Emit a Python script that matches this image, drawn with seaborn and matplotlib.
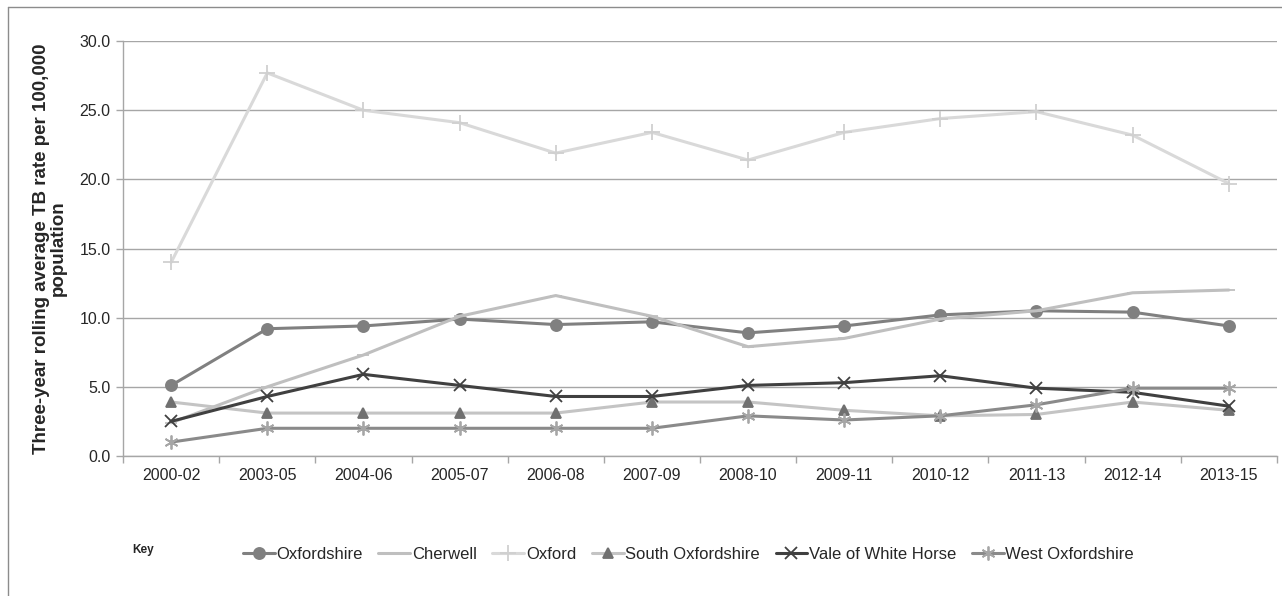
import numpy as np
import pandas as pd
import matplotlib
matplotlib.use('Agg')
import matplotlib.pyplot as plt
import seaborn as sns
from matplotlib.lines import Line2D
from matplotlib.ticker import FixedLocator

# ================================= #
# data
# ================================= #
periods = ['2000-02', '2003-05', '2004-06', '2005-07', '2006-08', '2007-09',
           '2008-10', '2009-11', '2010-12', '2011-13', '2012-14', '2013-15']

oxfordshire = [5.1, 9.2, 9.4, 9.9, 9.5, 9.7, 8.9, 9.4, 10.2, 10.5, 10.4, 9.4]
cherwell = [2.4, 5.0, 7.3, 10.1, 11.6, 10.1, 7.9, 8.5, 9.9, 10.5, 11.8, 12.0]
oxford = [14.0, 27.7, 25.0, 24.1, 21.9, 23.4, 21.4, 23.4, 24.4, 24.9, 23.2, 19.7]
south_oxon = [3.9, 3.1, 3.1, 3.1, 3.1, 3.9, 3.9, 3.3, 2.9, 3.0, 3.9, 3.3]
vale_wh = [2.5, 4.3, 5.9, 5.1, 4.3, 4.3, 5.1, 5.3, 5.8, 4.9, 4.6, 3.6]
west_oxon = [1.0, 2.0, 2.0, 2.0, 2.0, 2.0, 2.9, 2.6, 2.9, 3.7, 4.9, 4.9]

areas = ['Oxfordshire', 'Cherwell', 'Oxford', 'South Oxfordshire',
         'Vale of White Horse', 'West Oxfordshire']
series = [oxfordshire, cherwell, oxford, south_oxon, vale_wh, west_oxon]

df = pd.DataFrame({'period': np.tile(periods, len(areas)),
                   'pos': np.tile(np.arange(len(periods)), len(areas)),
                   'area': np.repeat(areas, len(periods)),
                   'rate': np.concatenate(series)})

# line colour, marker, marker colour, marker size
styles = {
    'Oxfordshire': ('#808080', 'o', '#808080', 8),
    'Cherwell': ('#bfbfbf', '_', '#bfbfbf', 8),
    'Oxford': ('#d9d9d9', '+', '#d0d0d0', 12),
    'South Oxfordshire': ('#c4c4c4', '^', '#707070', 7.5),
    'Vale of White Horse': ('#404040', 'x', '#404040', 9),
    'West Oxfordshire': ('#8a8a8a', (6, 2, 0), '#a6a6a6', 10),
}

sns.set_style('white')
plt.rcParams['font.family'] = ['Liberation Sans', 'DejaVu Sans']

fig = plt.figure(figsize=(12.82, 5.96), dpi=100)
ax = fig.add_axes([0.096, 0.235, 0.9, 0.696])

for area in areas:
    col, mk, mcol, ms = styles[area]
    sns.lineplot(data=df[df.area == area], x='pos', y='rate', ax=ax,
                 color=col, lw=2.2, marker=mk, markersize=ms,
                 markerfacecolor=mcol, markeredgecolor=mcol,
                 markeredgewidth=1.3, label=area, legend=False)

# axes, grid
ax.set_xlim(-0.5, len(periods) - 0.5)
ax.set_ylim(0, 30)
ax.set_yticks(np.arange(0, 31, 5))
ax.set_yticklabels(['%.1f' % v for v in np.arange(0, 31, 5)])
ax.set_xticks(np.arange(len(periods)))
ax.set_xticklabels(periods)
ax.xaxis.set_minor_locator(FixedLocator(np.arange(-0.5, len(periods), 1)))
ax.tick_params(axis='x', which='major', length=0, pad=9, labelsize=11.5)
ax.tick_params(axis='x', which='minor', length=5, color='#a6a6a6', width=1,
               bottom=True, direction='out')
ax.tick_params(axis='y', length=5, color='#a6a6a6', width=1, left=True,
               direction='out', labelsize=11.5, pad=4)
ax.yaxis.grid(True, color='#a6a6a6', lw=1)
ax.set_axisbelow(True)
for s in ['top', 'right']:
    ax.spines[s].set_visible(False)
for s in ['left', 'bottom']:
    ax.spines[s].set_color('#a6a6a6')
    ax.spines[s].set_linewidth(1)
ax.set_xlabel('')
ax.set_ylabel('Three-year rolling average TB rate per 100,000\npopulation',
              fontsize=13.5, fontweight='bold', labelpad=9, linespacing=1.0)

# legend at the bottom
leg = ax.legend(loc='center', bbox_to_anchor=(0.49, -0.237), ncol=6,
                frameon=False, fontsize=12, handlelength=1.9,
                handletextpad=0.1, columnspacing=0.95, numpoints=1)
fig.text(0.103, 0.078, 'Key', fontsize=8.5, fontweight='bold',
         va='center', ha='left')

# outer frame (top and left edges visible in the reference)
fig.add_artist(Line2D([8 / 1282, 1], [1 - 7 / 596, 1 - 7 / 596],
                      transform=fig.transFigure, color='#8c8c8c', lw=1))
fig.add_artist(Line2D([8 / 1282, 8 / 1282], [0, 1 - 7 / 596],
                      transform=fig.transFigure, color='#8c8c8c', lw=1))

fig.savefig('out.png', dpi=100)
